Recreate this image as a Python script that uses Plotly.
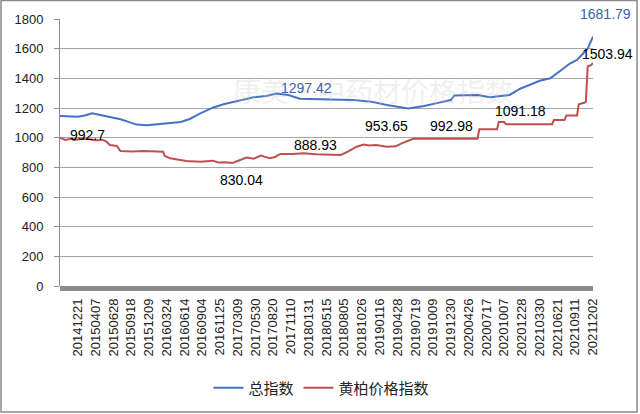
import plotly.graph_objects as go

# ---- data ----
tick_labels = ["20141221", "20150407", "20150628", "20150918", "20151209", "20160324",
               "20160614", "20160904", "20161125", "20170309", "20170530", "20170820",
               "20171110", "20180131", "20180515", "20180805", "20181026", "20190116",
               "20190428", "20190719", "20191009", "20191230", "20200426", "20200717",
               "20201007", "20201228", "20210330", "20210621", "20210911", "20211202"]
tick_positions = list(range(10, 301, 10))

total_idx = [0, 5, 10, 14, 18, 22, 28, 34, 39, 43, 49, 56, 62, 68, 73, 79, 86, 92, 100,
             109, 116, 122, 129, 135, 146, 165, 175, 184, 196, 205, 214, 220, 222, 235,
             242, 253, 259, 270, 276, 281, 287, 291, 297, 300]
total_val = [1146, 1143, 1141, 1150, 1164, 1155, 1140, 1124, 1105, 1088, 1083, 1090, 1095,
             1106, 1126, 1164, 1202, 1225, 1247, 1272, 1281, 1297.42, 1286, 1263, 1259,
             1254, 1243, 1220, 1196, 1214, 1238, 1254, 1285, 1288, 1272, 1288, 1330, 1384,
             1400, 1445, 1500, 1524, 1600, 1681.79]

hb_idx = [0, 3, 6, 8, 11, 15, 20, 24, 26, 28, 32, 34, 41, 47, 58, 59, 62, 71, 79, 86, 89,
          93, 97, 101, 105, 109, 113, 115, 118, 121, 124, 131, 137, 144, 152, 158, 162,
          167, 171, 174, 178, 184, 189, 192, 197, 199, 235, 236, 246, 247, 250, 251, 277,
          278, 284, 285, 291, 292, 295, 296, 297, 299, 300]
hb_val = [1000, 985, 993, 984, 990, 992.7, 983, 985, 975, 951, 944, 910, 906, 910, 905, 877,
          861, 843, 838, 845, 833, 835, 830.04, 849, 866, 858, 880, 872, 862, 870, 890, 890,
          895, 888.93, 883, 883, 906, 939, 953.65, 948, 951, 939, 942, 960, 984, 992.98,
          992.98, 1056, 1056, 1105, 1105, 1091.18, 1091.18, 1119, 1119, 1150, 1150, 1225,
          1235, 1243, 1480, 1490, 1503.94]

series_names = ["总指数", "黄柏价格指数"]

# label texts with (x index, y value) positions for the labels
labels_inside = [("992.7", 15.5, 1018, "#000000"),
                 ("830.04", 102, 715, "#000000"),
                 ("888.93", 144, 950, "#000000"),
                 ("953.65", 183.5, 1082, "#000000"),
                 ("992.98", 220.3, 1082, "#000000"),
                 ("1091.18", 259, 1183, "#000000"),
                 ("1297.42", 139, 1338, "#3B64A8")]

BLUE = "#4472C4"
RED = "#C0504D"
FONT = "Liberation Sans, Arial, Noto Sans CJK SC, sans-serif"

fig = go.Figure()
fig.add_trace(go.Scatter(x=total_idx, y=total_val, mode="lines", name=series_names[0],
                         line=dict(color=BLUE, width=2)))
fig.add_trace(go.Scatter(x=hb_idx, y=hb_val, mode="lines", name=series_names[1],
                         line=dict(color=RED, width=2)))

anns = []
# faint watermark (drawn first, beneath the labels)
anns.append(dict(x=0.587, y=0.734, xref="paper", yref="paper", text="康美·中药材价格指数",
                 showarrow=False, font=dict(size=28, color="rgba(200,200,200,0.28)",
                                            family="Noto Sans CJK SC"),
                 xanchor="center", yanchor="middle"))
for txt, xi, yv, col in labels_inside:
    anns.append(dict(x=xi, y=yv, xref="x", yref="y", text=txt, showarrow=False,
                     font=dict(size=14, color=col, family=FONT),
                     xanchor="center", yanchor="middle"))
# end labels anchored at last points
anns.append(dict(x=total_idx[-1], y=total_val[-1], xref="x", yref="y",
                 text=f"{total_val[-1]:.2f}", showarrow=False, xshift=12, yshift=23,
                 font=dict(size=14, color="#3B64A8", family=FONT),
                 xanchor="center", yanchor="middle"))
anns.append(dict(x=hb_idx[-1], y=hb_val[-1], xref="x", yref="y",
                 text=f"{hb_val[-1]:.2f}", showarrow=False, xshift=14, yshift=9,
                 font=dict(size=14, color="#000000", family=FONT),
                 xanchor="center", yanchor="middle"))

shapes = [
    # thick bottom axis bar
    dict(type="rect", xref="paper", yref="paper", x0=0, x1=1, y0=-0.019, y1=0.0,
         fillcolor="#8c8c8c", line=dict(width=0), layer="above"),
    # outer border
    dict(type="rect", xref="paper", yref="paper", x0=-0.1107, x1=1.0826,
         y0=-0.4719, y1=1.0693, line=dict(color="#8a8a8a", width=1.5),
         fillcolor="rgba(0,0,0,0)"),
]

fig.update_layout(
    width=640, height=414,
    margin=dict(l=60, r=47, t=19, b=128, autoexpand=False),
    paper_bgcolor="white", plot_bgcolor="white",
    font=dict(family=FONT, color="#222222"),
    showlegend=True,
    legend=dict(orientation="h", x=0.4906, y=-0.382, xanchor="center", yanchor="middle",
                font=dict(size=15, color="#222222", family="Noto Sans CJK SC"),
                itemwidth=30, tracegroupgap=0),
    annotations=anns,
    shapes=shapes,
)
fig.update_xaxes(range=[0, 300], tickmode="array", tickvals=tick_positions,
                 ticktext=tick_labels, tickangle=-90, showgrid=False, zeroline=False,
                 showline=False, ticks="", tickfont=dict(size=13, color="#222222"),
                 ticklabelstandoff=9, automargin=False)
fig.update_yaxes(range=[0, 1800], tickmode="array", tickvals=list(range(0, 1801, 200)),
                 showgrid=True, gridcolor="#a6a6a6", gridwidth=1, zeroline=False,
                 showline=True, linecolor="#8c8c8c", linewidth=1, ticks="outside",
                 ticklen=5, tickcolor="#8c8c8c", tickfont=dict(size=13, color="#222222"),
                 ticklabelstandoff=8, automargin=False)

fig.write_html("out.html", config={"displayModeBar": False},
               post_script="document.body.style.margin='0px';document.body.style.overflow='hidden';")
